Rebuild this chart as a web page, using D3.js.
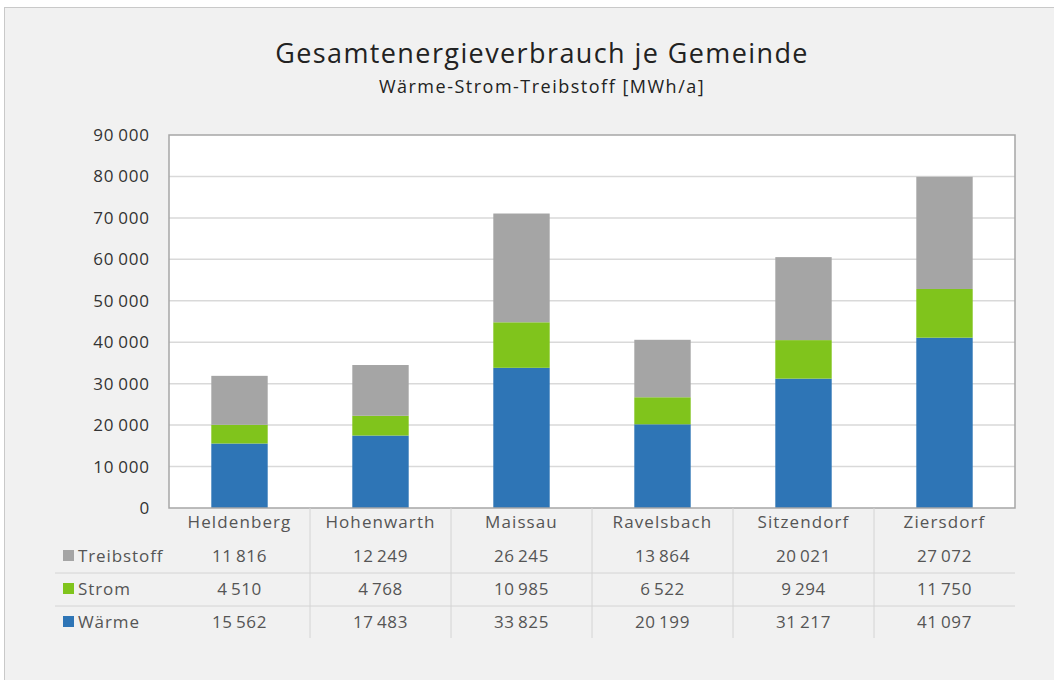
<!DOCTYPE html>
<meta charset="utf-8">
<style>
  body { margin: 0; background: #fff; }
  text { font-family: "Open Sans", Inter, sans-serif; }
</style>
<body>
<div id="box1"></div>
<script src="https://d3js.org/d3.v7.min.js"></script>
<script>

var gemeinden = ["Heldenberg", "Hohenwarth", "Maissau", "Ravelsbach", "Sitzendorf", "Ziersdorf"]
var waerme = [15562, 17483, 33825, 20199, 31217, 41097]
var strom = [4510, 4768, 10985, 6522, 9294, 11750]
var treibstoff = [11816, 12249, 26245, 13864, 20021, 27072]
var yTicks = [0, 10000, 20000, 30000, 40000, 50000, 60000, 70000, 80000, 90000]

var series = [
  {name: "Wärme", values: waerme, color: "#2e75b6"},
  {name: "Strom", values: strom, color: "#80c41c"},
  {name: "Treibstoff", values: treibstoff, color: "#a5a5a5"}
]

var width = 1054, height = 680
var margin = {top: 135, right: 39, bottom: 172, left: 169}

var loc = d3.formatLocale({decimal: ",", thousands: "\u2009", grouping: [3], currency: ["", "€"]})
var fmt = loc.format(",d")

var rows = gemeinden.map(function(g, i) {
  return {gemeinde: g, "Wärme": waerme[i], "Strom": strom[i], "Treibstoff": treibstoff[i]}
})
var stacked = d3.stack().keys(series.map(d => d.name))(rows)

var x = d3.scaleBand()
  .domain(gemeinden)
  .range([margin.left, width - margin.right])
  .paddingInner(0).paddingOuter(0)

var y = d3.scaleLinear()
  .domain([0, 90000])
  .range([height - margin.bottom, margin.top])

var svg = d3.select("#box1").append("svg")
  .attr("width", width)
  .attr("height", height)

// chart background
svg.append("rect")
  .attr("x", 4.5).attr("y", 7.5)
  .attr("width", width + 10).attr("height", height + 10)
  .attr("fill", "#f1f1f1")
  .attr("stroke", "#c9c9c9")

svg.append("text")
  .attr("x", 542).attr("y", 63)
  .attr("text-anchor", "middle")
  .style("font-size", "27px")
  .style("letter-spacing", "1.4px")
  .style("fill", "#222")
  .text("Gesamtenergieverbrauch je Gemeinde")

svg.append("text")
  .attr("x", 542).attr("y", 93)
  .attr("text-anchor", "middle")
  .style("font-size", "18px")
  .style("letter-spacing", "1.5px")
  .style("fill", "#222")
  .text("Wärme-Strom-Treibstoff [MWh/a]")

// plot area
svg.append("rect")
  .attr("x", margin.left).attr("y", margin.top)
  .attr("width", width - margin.left - margin.right)
  .attr("height", height - margin.top - margin.bottom)
  .attr("fill", "#fff")

svg.append("g")
  .selectAll("line")
  .data(yTicks.slice(1, -1))
  .join("line")
    .attr("x1", margin.left).attr("x2", width - margin.right)
    .attr("y1", d => y(d)).attr("y2", d => y(d))
    .attr("stroke", "#d9d9d9")
    .attr("stroke-width", 1.5)

svg.append("g")
  .selectAll("text")
  .data(yTicks)
  .join("text")
    .attr("x", 150)
    .attr("y", d => y(d) + 6)
    .attr("text-anchor", "end")
    .style("font-size", "17px")
    .style("letter-spacing", "0.9px")
    .style("fill", "#333")
    .text(d => fmt(d))

// bars
var barW = x.bandwidth() * 0.4
svg.append("g")
  .selectAll("g")
  .data(stacked)
  .join("g")
    .attr("fill", (d, i) => series[i].color)
  .selectAll("rect")
  .data(d => d)
  .join("rect")
    .attr("x", d => x(d.data.gemeinde) + (x.bandwidth() - barW) / 2)
    .attr("y", d => y(d[1]))
    .attr("height", d => y(d[0]) - y(d[1]))
    .attr("width", barW)

svg.append("rect")
  .attr("x", margin.left).attr("y", margin.top)
  .attr("width", width - margin.left - margin.right)
  .attr("height", height - margin.top - margin.bottom)
  .attr("fill", "none")
  .attr("stroke", "#a6a6a6")
  .attr("stroke-width", 1.5)

// data table
var y0 = height - margin.bottom
var tableRows = [series[2], series[1], series[0]]
var rowY = [556, 589, 622]
var catY = 522

svg.append("g")
  .selectAll("line")
  .data(gemeinden.slice(1))
  .join("line")
    .attr("x1", d => x(d)).attr("x2", d => x(d))
    .attr("y1", y0).attr("y2", 638)
    .attr("stroke", "#d4d4d4")

svg.append("g")
  .selectAll("line")
  .data([573, 606])
  .join("line")
    .attr("x1", 55).attr("x2", width - margin.right)
    .attr("y1", d => d).attr("y2", d => d)
    .attr("stroke", "#d4d4d4")

svg.append("g")
  .selectAll("text")
  .data(gemeinden)
  .join("text")
    .attr("x", d => x(d) + x.bandwidth() / 2)
    .attr("y", catY + 6)
    .attr("text-anchor", "middle")
    .style("font-size", "17px")
    .style("letter-spacing", "1.1px")
    .style("fill", "#555")
    .text(d => d)

tableRows.forEach(function(s, r) {
  var g = svg.append("g")
  g.append("rect")
    .attr("x", 63).attr("y", rowY[r] - 6)
    .attr("width", 11).attr("height", 11)
    .attr("fill", s.color)
  g.append("text")
    .attr("x", 78).attr("y", rowY[r] + 6)
    .style("font-size", "17px")
    .style("letter-spacing", "0.9px")
    .style("fill", "#555")
    .text(s.name)
  g.selectAll("text.v")
    .data(s.values)
    .join("text")
      .attr("class", "v")
      .attr("x", (d, i) => x(gemeinden[i]) + x.bandwidth() / 2)
      .attr("y", rowY[r] + 6)
      .attr("text-anchor", "middle")
      .style("font-size", "17px")
      .style("letter-spacing", "0.6px")
      .style("fill", "#555")
      .text(d => fmt(d))
})

</script>
</body>
